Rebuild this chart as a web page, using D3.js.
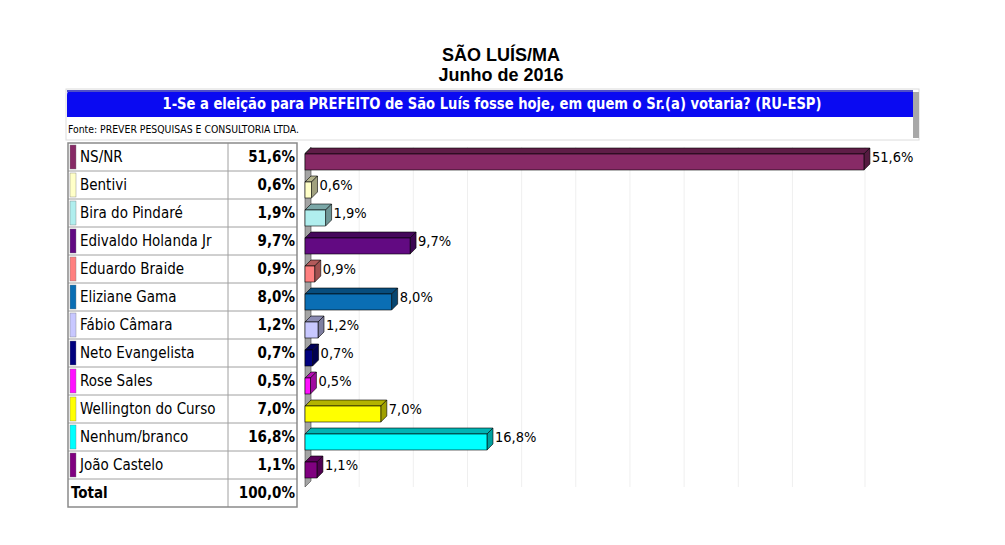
<!DOCTYPE html>
<html><head><meta charset="utf-8">
<script src="https://cdn.jsdelivr.net/npm/d3@7"></script>
<style>
html,body{margin:0;padding:0;background:#fff;}
svg{display:block;}
.cond{font-family:"DejaVu Sans Condensed","DejaVu Sans",sans-serif;font-stretch:condensed;}
</style></head>
<body>
<svg id="c" width="1005" height="545"></svg>
<script>
const categories = ["NS/NR","Bentivi","Bira do Pindaré","Edivaldo Holanda Jr","Eduardo Braide","Eliziane Gama","Fábio Câmara","Neto Evangelista","Rose Sales","Wellington do Curso","Nenhum/branco","João Castelo"];
const values = [51.6,0.6,1.9,9.7,0.9,8.0,1.2,0.7,0.5,7.0,16.8,1.1];
const valueLabels = ["51,6%","0,6%","1,9%","9,7%","0,9%","8,0%","1,2%","0,7%","0,5%","7,0%","16,8%","1,1%"];
const colors = ["#872a66","#ffffc8","#b0eeee","#620a82","#ff8080","#0a6eb4","#c8c8ff","#00007e","#ff10ff","#ffff00","#00ffff","#800080"];
const totalLabel = "Total";
const totalValue = "100,0%";
const gridTicks = [5,10,15,20,25,30,35,40,45];
const titleLines = ["SÃO LUÍS/MA","Junho de 2016"];
const question = "1-Se a eleição para PREFEITO de São Luís fosse hoje, em quem o Sr.(a) votaria? (RU-ESP)";
const source = "Fonte: PREVER PESQUISAS E CONSULTORIA LTDA.";

const svg = d3.select("#c");

// Titles
svg.append("text").attr("x",501).attr("y",61).attr("text-anchor","middle")
  .attr("font-family","Liberation Sans, Arial, sans-serif").attr("font-weight","bold").attr("font-size",18)
  .text(titleLines[0]);
svg.append("text").attr("x",501).attr("y",81).attr("text-anchor","middle")
  .attr("font-family","Liberation Sans, Arial, sans-serif").attr("font-weight","bold").attr("font-size",18)
  .text(titleLines[1]);

// Banner
svg.append("rect").attr("x",66).attr("y",89).attr("width",853).attr("height",51).attr("fill","none")
  .attr("stroke","#dcdcdc").attr("stroke-width",1);
svg.append("rect").attr("x",913).attr("y",92).attr("width",6).attr("height",46).attr("fill","#a8a8a8");
svg.append("path").attr("d","M67,117 L67,95 Q67,90 72,90 L913,90 L913,117 Z").attr("fill","#0a0af2");
svg.append("rect").attr("x",67).attr("y",90).attr("width",846).attr("height",2).attr("fill","#5050c8");
svg.append("text").attr("class","cond").attr("x",492).attr("y",109).attr("text-anchor","middle")
  .attr("fill","#fff").attr("font-weight","bold").attr("font-size",15)
  .attr("textLength",659).attr("lengthAdjust","spacingAndGlyphs").text(question);
svg.append("text").attr("class","cond").attr("x",68).attr("y",133)
  .attr("font-size",10).attr("textLength",231).attr("lengthAdjust","spacingAndGlyphs").text(source);

// Table
const rowH = 28, tableTop = 143;
const rows = categories.map((c,i)=>({c,v:values[i],l:valueLabels[i],col:colors[i]}));
const y = d3.scaleBand().domain(d3.range(categories.length+1)).range([tableTop, tableTop+rowH*(categories.length+1)]);
const tL = 68, tR = 297, tM = 228;
const tbl = svg.append("g");
tbl.selectAll("line.h").data(d3.range(1,categories.length+1)).join("line")
  .attr("x1",tL).attr("x2",tR).attr("y1",d=>y(d)).attr("y2",d=>y(d)).attr("stroke","#a0a0a0").attr("stroke-width",1);
tbl.append("line").attr("x1",tM).attr("x2",tM).attr("y1",tableTop).attr("y2",y.range()[1]).attr("stroke","#a0a0a0");
tbl.append("rect").attr("x",tL).attr("y",tableTop).attr("width",tR-tL).attr("height",y.range()[1]-tableTop)
  .attr("fill","none").attr("stroke","#8a8a8a").attr("stroke-width",1.5);
tbl.selectAll("rect.sw").data(rows).join("rect").attr("x",70).attr("y",(d,i)=>y(i)+2).attr("width",6).attr("height",rowH-4)
  .attr("fill",d=>d.col).attr("stroke","#777").attr("stroke-width",0.4);
tbl.selectAll("text.lab").data(rows).join("text").attr("class","cond").attr("x",80).attr("y",(d,i)=>y(i)+19)
  .attr("font-size",15).text(d=>d.c);
tbl.selectAll("text.val").data(rows).join("text").attr("class","cond").attr("x",295).attr("y",(d,i)=>y(i)+19)
  .attr("text-anchor","end").attr("font-size",15).attr("font-weight","bold").text(d=>d.l);
const n = categories.length;
tbl.append("text").attr("class","cond").attr("x",71).attr("y",y(n)+19).attr("font-size",15).attr("font-weight","bold").text(totalLabel);
tbl.append("text").attr("class","cond").attr("x",295).attr("y",y(n)+19).attr("text-anchor","end").attr("font-size",15).attr("font-weight","bold").text(totalValue);

// Chart
const x = d3.scaleLinear().domain([0,51.7]).range([305,865]);
const dx = 6, dy = 6;
const g = svg.append("g");
const gTop = tableTop+4, gBot = y(n)+8;
g.selectAll("line.grid").data(gridTicks.concat([x.domain()[1]])).join("line")
  .attr("x1",d=>x(d)).attr("x2",d=>x(d)).attr("y1",gTop).attr("y2",gBot).attr("stroke","#efefef").attr("stroke-width",1);
// wall
g.append("path").attr("d",`M${x(0)},${gTop+dy} L${x(0)+dx},${gTop} L${x(0)+dx},${gBot-dy} L${x(0)},${gBot} Z`)
  .attr("fill","#a4a4a4").attr("stroke","#444").attr("stroke-width",0.6);

const shade = (c,k)=>d3.color(c).darker(k).formatHex();
const bars = g.selectAll("g.bar").data(rows).join("g");
bars.each(function(d,i){
  const b = d3.select(this);
  const x0 = x(0), x1 = x(d.v), y0 = y(i)+11, h = 16;
  b.append("path").attr("d",`M${x0},${y0} L${x0+dx},${y0-dy} L${x1+dx},${y0-dy} L${x1},${y0} Z`)
    .attr("fill",shade(d.col,1.0)).attr("stroke","#000").attr("stroke-width",0.6);
  b.append("path").attr("d",`M${x1},${y0} L${x1+dx},${y0-dy} L${x1+dx},${y0+h-dy} L${x1},${y0+h} Z`)
    .attr("fill",shade(d.col,1.3)).attr("stroke","#000").attr("stroke-width",0.6);
  b.append("rect").attr("x",x0).attr("y",y0).attr("width",x1-x0).attr("height",h)
    .attr("fill",d.col).attr("stroke","#000").attr("stroke-width",0.6);
  b.append("text").attr("class","cond").attr("x",x1+dx+2).attr("y",y0+8)
    .attr("font-size",14.5).text(d.l);
});
</script>
</body></html>
